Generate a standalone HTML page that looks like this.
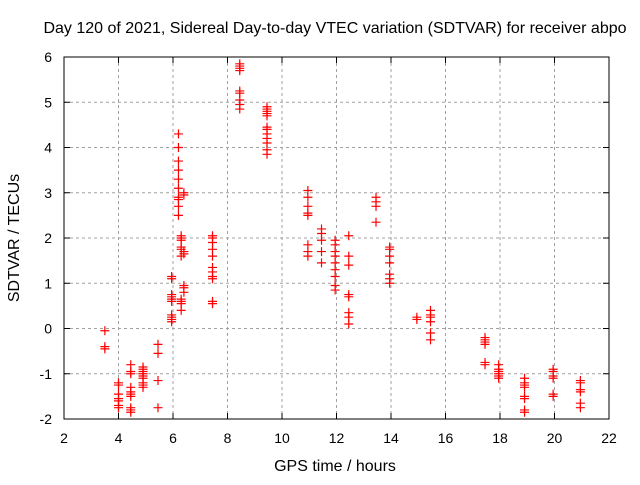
<!DOCTYPE html>
<html><head><meta charset="utf-8"><style>
body{margin:0;background:#fff}
svg text{font-family:"Liberation Sans",sans-serif;font-size:14px;fill:#000}
svg text.big{font-size:16px}
</style></head><body>
<svg id="c" width="640" height="480" xmlns="http://www.w3.org/2000/svg">
<text class="big" x="335" y="33" text-anchor="middle">Day 120 of 2021, Sidereal Day-to-day VTEC variation (SDTVAR) for receiver abpo</text>
<text class="big" x="335" y="471" text-anchor="middle">GPS time / hours</text>
<text class="big" transform="translate(19,238) rotate(-90)" text-anchor="middle">SDTVAR / TECUs</text>
<g id="grid"></g><g id="ticks"></g><g id="pts"></g>
<rect x="64" y="57" width="545" height="362" fill="none" stroke="#000" stroke-width="1"/>
</svg>
<script>
const xTicks=[2,4,6,8,10,12,14,16,18,20,22];
const yTicks=[-2,-1,0,1,2,3,4,5,6];
const clusterX=[3.5,4.0,4.45,4.9,5.45,5.95,6.2,6.3,6.4,7.45,8.45,9.45,10.95,11.45,11.95,12.45,13.45,13.95,14.95,15.45,17.45,17.95,18.9,19.95,20.95];
const clusterY=[
[-0.05,-0.4,-0.45],
[-1.2,-1.25,-1.45,-1.55,-1.6,-1.7,-1.75],
[-0.8,-0.95,-1.0,-1.3,-1.4,-1.45,-1.5,-1.75,-1.8,-1.85],
[-0.85,-0.9,-0.95,-1.0,-1.05,-1.1,-1.2,-1.25,-1.3],
[-0.35,-0.55,-1.15,-1.75],
[1.15,1.1,0.75,0.7,0.6,0.65,0.3,0.25,0.2,0.15],
[4.3,4.0,3.7,3.5,3.3,3.1,2.9,2.85,2.7,2.5],
[2.05,2.0,1.95,1.8,1.75,1.6,0.65,0.6,0.55,0.4],
[3.0,2.95,1.7,1.65,0.95,0.9,0.8],
[2.05,2.0,1.9,1.75,1.6,1.35,1.25,1.15,1.1,0.6,0.55],
[5.85,5.8,5.75,5.7,5.25,5.2,5.05,4.95,4.85],
[4.9,4.85,4.8,4.75,4.7,4.45,4.4,4.3,4.2,4.1,3.95,3.85],
[3.05,2.9,2.7,2.55,2.5,1.85,1.7,1.6],
[2.2,2.1,1.95,1.7,1.45],
[1.95,1.85,1.7,1.6,1.45,1.3,1.15,0.95,0.85],
[2.05,1.6,1.4,0.75,0.7,0.35,0.25,0.1],
[2.9,2.8,2.7,2.35],
[1.8,1.75,1.6,1.45,1.2,1.1,1.0],
[0.25,0.2],
[0.4,0.3,0.25,0.15,-0.1,-0.25],
[-0.2,-0.25,-0.3,-0.35,-0.75,-0.8],
[-0.8,-0.9,-0.95,-1.0,-1.05,-1.1],
[-1.1,-1.2,-1.25,-1.3,-1.5,-1.55,-1.8,-1.85],
[-0.9,-0.95,-1.05,-1.1,-1.45,-1.5],
[-1.15,-1.2,-1.35,-1.4,-1.65,-1.75]
];
const L=64,R=609,T=57,B=419;
const sx=v=>L+(v-2)/20*(R-L);
const sy=v=>B-(v+2)/8*(B-T);
const NS="http://www.w3.org/2000/svg";
function mk(tag,attrs,parent){const e=document.createElementNS(NS,tag);for(const k in attrs)e.setAttribute(k,attrs[k]);document.getElementById(parent).appendChild(e);return e;}
xTicks.forEach(t=>{const x=sx(t);
 if(t>2&&t<22){const g=mk('line',{x1:x,x2:x,y1:T,y2:B,stroke:'#a0a0a0','stroke-dasharray':'3,3'},'grid');
 
 }
 mk('line',{x1:x,x2:x,y1:B,y2:B-6,stroke:'#000'},'ticks');mk('line',{x1:x,x2:x,y1:T,y2:T+6,stroke:'#000'},'ticks');
 const tx=mk('text',{x:x,y:B+24,'text-anchor':'middle'},'ticks');tx.textContent=t;
 
 });
yTicks.forEach(t=>{const y=sy(t);
 if(t>-2&&t<6){const g=mk('line',{x1:L,x2:R,y1:y,y2:y,stroke:'#a0a0a0','stroke-dasharray':'3,3'},'grid');
 
 }
 mk('line',{x1:L,x2:L+6,y1:y,y2:y,stroke:'#000'},'ticks');mk('line',{x1:R,x2:R-6,y1:y,y2:y,stroke:'#000'},'ticks');
 const tx=mk('text',{x:52,y:y+5,'text-anchor':'end'},'ticks');tx.textContent=t;
 
 });
clusterX.forEach((cx,i)=>{clusterY[i].forEach(v=>{const x=sx(cx),y=sy(v);
 const p=mk('path',{d:`M${x-4.5},${y}H${x+4.5}M${x},${y-4.5}V${y+4.5}`,stroke:'#f00','stroke-width':1.2,fill:'none'},'pts');
 
 });});
</script>
</body></html>
